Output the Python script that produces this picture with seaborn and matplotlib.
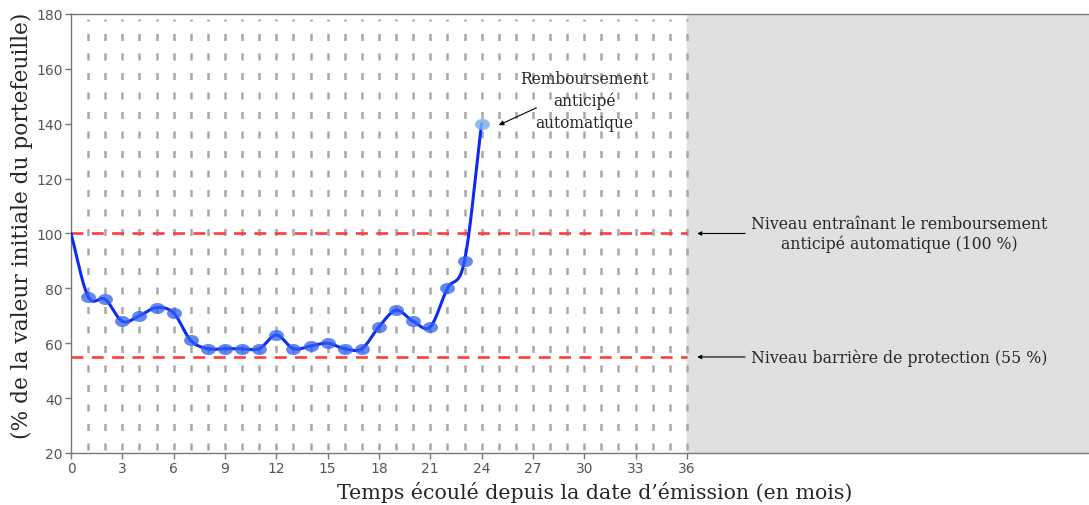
import numpy as np
import pandas as pd
import matplotlib
matplotlib.use("Agg")
import matplotlib.pyplot as plt
from matplotlib.path import Path
import seaborn as sns

# data
months = [0, 1, 2, 3, 4, 5, 6, 7, 8, 9, 10, 11, 12, 13, 14, 15, 16, 17, 18, 19, 20, 21, 22, 23, 24]
values = [100, 77, 76, 68, 70, 73, 71, 61, 58, 58, 58, 58, 63, 58, 59, 60, 58, 58, 66, 72, 68, 66, 80, 90, 140]
autocall_level = 100
barrier_level = 55
horizon = 36
x_ticks = list(range(0, 37, 3))
y_ticks = list(range(20, 181, 20))


# smooth the drawn line (Catmull-Rom through the observed points)
def smooth(x, y, n=20):
    x = np.asarray(x, float)
    y = np.asarray(y, float)
    px = np.concatenate([[2 * x[0] - x[1]], x, [2 * x[-1] - x[-2]]])
    py = np.concatenate([[2 * y[0] - y[1]], y, [2 * y[-1] - y[-2]]])
    xs, ys = [], []
    t = np.linspace(0, 1, n, endpoint=False)
    for i in range(1, len(px) - 2):
        for p, out in ((px, xs), (py, ys)):
            p0, p1, p2, p3 = p[i - 1], p[i], p[i + 1], p[i + 2]
            out.extend(0.5 * (2 * p1 + (-p0 + p2) * t + (2 * p0 - 5 * p1 + 4 * p2 - p3) * t ** 2
                              + (-p0 + 3 * p1 - 3 * p2 + p3) * t ** 3))
    xs.append(x[-1])
    ys.append(y[-1])
    return np.array(xs), np.array(ys)


sns.set_style("white")
plt.rcParams["font.family"] = ["DejaVu Sans"]

fig = plt.figure(figsize=(10.89, 5.06), dpi=100)
ax = fig.add_axes([0.0652, 0.1028, 0.9348, 0.8676])

x_end = 59.5
ax.set_xlim(0, x_end)
ax.set_ylim(20, 180)

# grey zone after maturity
ax.axvspan(horizon, x_end, color="#e0e0e0", zorder=0)

# vertical dashed grid, one per month
ax.vlines(range(1, horizon + 1), 21, 178, colors="#a8a8a8", linewidth=1.8,
          linestyles=(0, (2.8, 5.0)), zorder=1)

# level lines
ax.hlines([autocall_level, barrier_level], 0, horizon, colors="#ff3b3b", linewidth=1.9,
          linestyles=(0, (4.5, 3.2)), zorder=2)

# curve
sx, sy = smooth(months, values)
curve = pd.DataFrame({"mois": sx, "valeur": sy})
sns.lineplot(data=curve, x="mois", y="valeur", ax=ax, color="#0b2cf2", linewidth=2.2,
             sort=False, estimator=None, zorder=3)

# elliptical markers
theta = np.linspace(0, 2 * np.pi, 40)
ellipse = Path(np.column_stack([1.35 * np.cos(theta), np.sin(theta)]), closed=True)
pts = pd.DataFrame({"mois": months[1:-1], "valeur": values[1:-1]})
sns.scatterplot(data=pts, x="mois", y="valeur", ax=ax, marker=ellipse, s=115,
                color="#2f5ff0", alpha=0.75, linewidth=0, zorder=4)
ax.scatter([months[-1]], [values[-1]], marker=ellipse, s=115, color="#7fb0f0",
           alpha=0.85, linewidth=0, zorder=4)

serif = ["DejaVu Serif"]
ax.text(30.0, 148.5, "Remboursement\nanticipé\nautomatique", ha="center", va="center",
        fontsize=11.2, family=serif, linespacing=1.35)
ax.annotate("", xy=(25.0, 139.5), xytext=(27.2, 145.8),
            arrowprops=dict(arrowstyle="-|>", color="black", lw=0.8, mutation_scale=7,
                            shrinkA=0, shrinkB=0))
ax.annotate("", xy=(36.6, autocall_level), xytext=(39.4, autocall_level),
            arrowprops=dict(arrowstyle="-|>", color="black", lw=0.8, mutation_scale=6,
                            shrinkA=0, shrinkB=0))
ax.text(48.4, autocall_level, "Niveau entraînant le remboursement\nanticipé automatique (100 %)",
        ha="center", va="center", fontsize=11.3, family=serif, linespacing=1.2)
ax.annotate("", xy=(36.6, barrier_level), xytext=(39.4, barrier_level),
            arrowprops=dict(arrowstyle="-|>", color="black", lw=0.8, mutation_scale=6,
                            shrinkA=0, shrinkB=0))
ax.text(48.4, barrier_level, "Niveau barrière de protection (55 %)",
        ha="center", va="center", fontsize=11.3, family=serif)

ax.set_xticks(x_ticks)
ax.set_yticks(y_ticks)
ax.tick_params(axis="both", colors="#777777", labelcolor="#555555", labelsize=10,
               length=4, width=1, direction="out", pad=2)
ax.tick_params(axis="both", which="both", bottom=True, left=True)
for side in ["left", "bottom", "top"]:
    ax.spines[side].set_color("#777777")
    ax.spines[side].set_linewidth(1)
ax.spines["right"].set_visible(False)

ax.set_xlabel("")
ax.set_ylabel("")
fig.text(595 / 1089, 1 - 493 / 506, "Temps écoulé depuis la date d’émission (en mois)",
         family=serif, fontsize=14.8, ha="center", va="center")
fig.text(22 / 1089, 1 - 226 / 506, "(% de la valeur initiale du portefeuille)",
         family=serif, fontsize=15.6, ha="center", va="center", rotation=90)

fig.savefig("out.png", dpi=100)
